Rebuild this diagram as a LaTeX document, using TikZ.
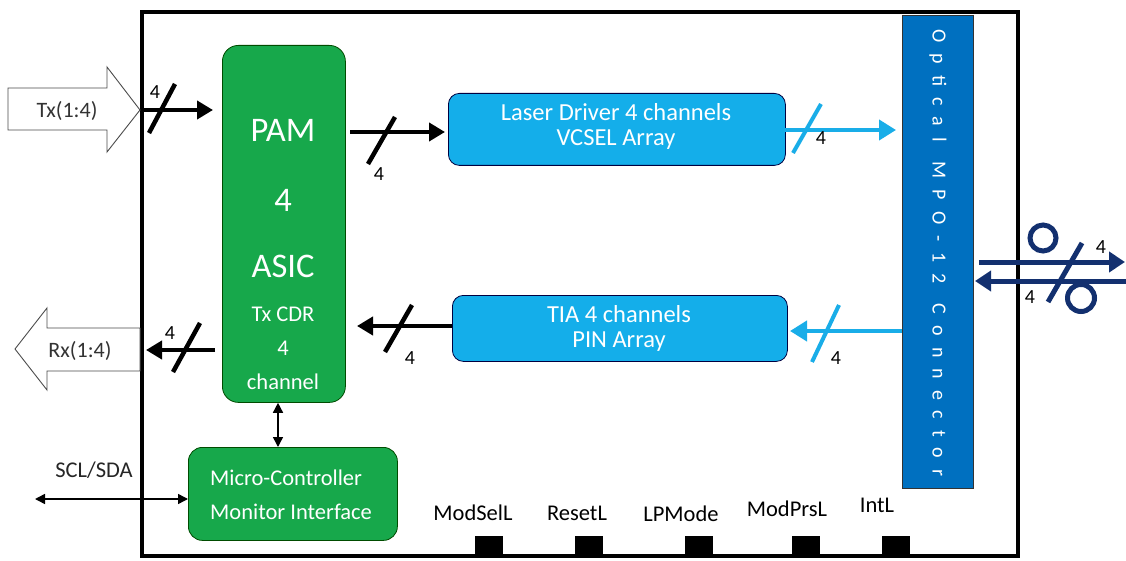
\documentclass[tikz,border=0pt]{standalone}
\usepackage{fontspec}
\setmainfont{Carlito}
\newfontfamily\spacedfont[LetterSpace=55]{Carlito}
\usetikzlibrary{arrows.meta,calc}
\definecolor{asicgreen}{HTML}{17A84B}
\definecolor{lblue}{HTML}{14AEEA}
\definecolor{mpoblue}{HTML}{0070C0}
\definecolor{navy}{HTML}{13306F}
\definecolor{arrblue}{HTML}{19ADE8}
\tikzset{
  greenbox/.style={draw=black!70!green, line width=0.8pt, fill=asicgreen, rounded corners=16pt, inner sep=0pt},
  bluebox/.style={draw=black!75!blue, line width=0.8pt, fill=lblue, rounded corners=11pt, inner sep=0pt},
  bluetxt/.style={text=white, inner sep=0pt, anchor=base, font=\fontsize{24.5}{24.5}\selectfont},
  wtxt/.style={text=white, inner sep=0pt},
  blkarrow/.style={line width=4.5pt, -{Triangle[length=16pt,width=18pt]}},
  bluearrow/.style={arrblue, line width=4pt, -{Triangle[length=17pt,width=20pt]}},
  navyarrow/.style={navy, line width=5pt, -{Triangle[length=16pt,width=20pt]}},
  slashblk/.style={line width=4.5pt},
  slashblue/.style={arrblue, line width=4pt},
  numlbl/.style={font=\fontsize{20}{20}\selectfont, inner sep=0pt},
  blockarrow/.style={draw=black!70, line width=0.9pt, fill=white},
  thinarrow/.style={line width=1.5pt, {Triangle[length=10pt,width=10pt]}-{Triangle[length=10pt,width=10pt]}},
  pinlbl/.style={font=\fontsize{22.5}{22.5}\selectfont, inner sep=0pt},
  pinbox/.style={fill=black, draw=none, minimum width=28pt, minimum height=22pt, inner sep=0pt, anchor=south}
}
\begin{document}
\begin{tikzpicture}[x=1pt,y=-1pt]
\useasboundingbox (0,0) rectangle (1126,561);
\fill[white] (0,0) rectangle (1126,561);

% module frame
\draw[line width=4.5pt] (142,12) rectangle (1018,556);

% PAM4 ASIC
\node[greenbox, minimum width=123pt, minimum height=357pt, anchor=north west] (pam) at (222,45) {};
\node[wtxt, font=\fontsize{34.5}{34.5}\selectfont] (pam1) at (283,130) {PAM};
\node[wtxt, font=\fontsize{34.5}{34.5}\selectfont] (pam2) at (283,200) {4};
\node[wtxt, font=\fontsize{34.5}{34.5}\selectfont] (pam3) at (283,266) {ASIC};
\node[wtxt, font=\fontsize{22.5}{22.5}\selectfont] (pam4) at (283,314) {Tx CDR};
\node[wtxt, font=\fontsize{22.5}{22.5}\selectfont] (pam5) at (283,348) {4};
\node[wtxt, font=\fontsize{22.5}{22.5}\selectfont] (pam6) at (283,382) {channel};

% Laser driver and TIA
\node[bluebox, minimum width=337pt, minimum height=72pt, anchor=north west] (laser) at (448,93) {};
\node[bluetxt] (laser1) at (616,121) {Laser Driver 4 channels};
\node[bluetxt] (laser2) at (616,146) {VCSEL Array};
\node[bluebox, minimum width=335pt, minimum height=66pt, anchor=north west] (tia) at (452,295) {};
\node[bluetxt] (tia1) at (619,322) {TIA 4 channels};
\node[bluetxt] (tia2) at (619,347) {PIN Array};

% MPO connector
\node[draw=black!80, line width=0.8pt, fill=mpoblue, minimum width=71pt, minimum height=473pt, anchor=north west, inner sep=0pt] (mpo) at (902,15) {};
\node[text=white, rotate=-90, font=\spacedfont\fontsize{20}{20}\selectfont, inner sep=0pt] (mpotxt) at (938,253) {Optical\hspace{20pt}MPO-12\hspace{20pt}Connector};

% Micro-controller
\node[greenbox, rounded corners=14pt, minimum width=209pt, minimum height=93pt, anchor=north west] (mc) at (188,447) {};
\node[wtxt, anchor=west, font=\fontsize{22.5}{22.5}\selectfont] (mc1) at (210,478) {Micro-Controller};
\node[wtxt, anchor=west, font=\fontsize{22.5}{22.5}\selectfont] (mc2) at (210,512) {Monitor Interface};

% Tx block arrow
\draw[blockarrow] (8,88) -- (107,88) -- (107,67) -- (140,110) -- (107,152) -- (107,130) -- (8,130) -- cycle;
\node[font=\fontsize{22}{22}\selectfont, text=black!80, inner sep=0pt] (txl) at (67,111) {Tx(1:4)};
% Rx block arrow
\draw[blockarrow] (15,349) -- (47,308) -- (47,328) -- (140,328) -- (140,371) -- (47,371) -- (47,390) -- cycle;
\node[font=\fontsize{22}{22}\selectfont, text=black!80, inner sep=0pt] (rxl) at (80,351) {Rx(1:4)};

% Tx into ASIC
\coordinate (txin) at (142,110);
\draw[blkarrow, shorten >=9pt] (txin) -- (pam.west |- txin);
\draw[slashblk] (149,133) -- (175,84);
\node[numlbl] (n1) at (155,92) {4};

% ASIC to Rx
\coordinate (rxout) at (146,350);
\draw[blkarrow, shorten <=7pt] (pam.west |- rxout) -- (rxout);
\draw[slashblk] (173,372) -- (200,323);
\node[numlbl] (n2) at (170,333) {4};

% ASIC to laser driver
\coordinate (pl) at (350,132);
\draw[blkarrow, shorten >=3pt] (pl) -- (laser.west |- pl);
\draw[slashblk] (368,164) -- (395,117);
\node[numlbl] (n3) at (379,174) {4};

% TIA to ASIC
\coordinate (tp) at (357,326);
\draw[blkarrow] (tia.west |- tp) -- (tp);
\draw[slashblk] (385,352) -- (412,305);
\node[numlbl] (n4) at (410,358) {4};

% laser driver to MPO
\coordinate (lm) at (785,130);
\draw[bluearrow, shorten >=6pt] (lm) -- (mpo.west |- lm);
\draw[slashblue] (793,153) -- (821,104);
\node[numlbl] (n5) at (821,138) {4};

% MPO to TIA
\coordinate (mt) at (790,331);
\draw[bluearrow] (mpo.west |- mt) -- (mt);
\draw[slashblue] (812,362) -- (839,305);
\node[numlbl] (n6) at (836,358) {4};

% optical fibre arrows
\coordinate (oout) at (1125,262);
\coordinate (oin) at (975,281);
\draw[navyarrow, shorten <=5pt] (mpo.east |- oout) -- (oout);
\draw[navyarrow] (1126,281) -- (oin);
\draw[navy, line width=5pt] (1043,238) circle[radius=13];
\draw[navy, line width=5pt] (1081,298) circle[radius=13.5];
\draw[navy, line width=5pt] (1048,302) -- (1082,243);
\node[numlbl] (n7) at (1101,247) {4};
\node[numlbl] (n8) at (1030,297) {4};

% ASIC <-> micro-controller
\draw[thinarrow] (pam.south -| 278,0) -- (mc.north -| 278,0);
% SCL/SDA
\coordinate (scl) at (35,499);
\draw[thinarrow] (scl) -- (mc.west |- scl);
\node[font=\fontsize{22.5}{22.5}\selectfont, text=black!85, inner sep=0pt] (scll) at (94,470) {SCL/SDA};

% low speed pins
\node[pinbox] (p1) at (489,558) {};
\node[pinbox] (p2) at (589,558) {};
\node[pinbox] (p3) at (699,558) {};
\node[pinbox] (p4) at (806,558) {};
\node[pinbox] (p5) at (896,558) {};
\node[pinlbl] (l1) at (473,513) {ModSelL};
\node[pinlbl] (l2) at (577,513) {ResetL};
\node[pinlbl] (l3) at (681,514) {LPMode};
\node[pinlbl] (l4) at (787,509) {ModPrsL};
\node[pinlbl] (l5) at (877,505) {IntL};
\end{tikzpicture}
\end{document}
